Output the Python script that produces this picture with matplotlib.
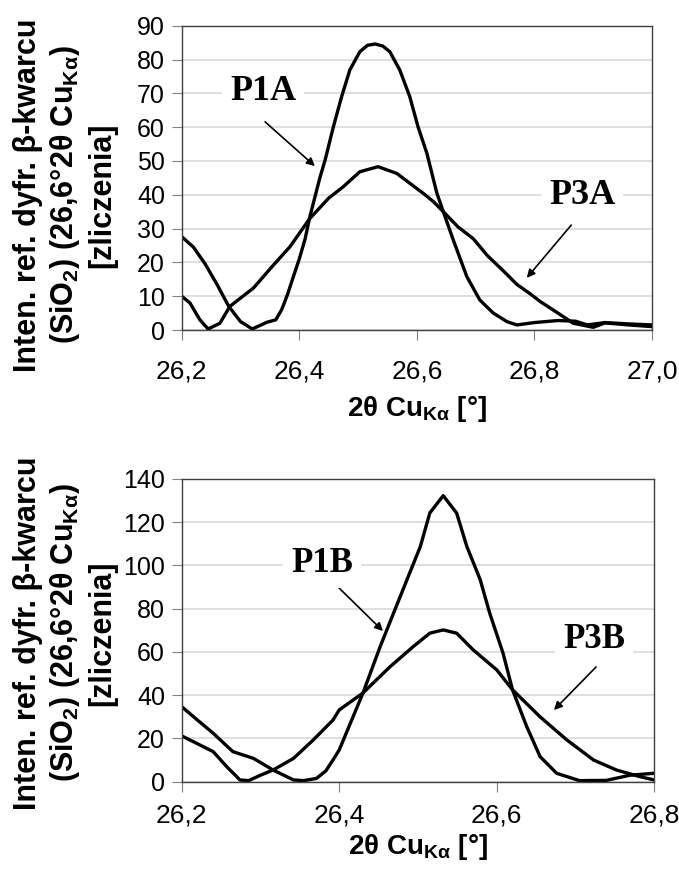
import matplotlib
matplotlib.use('Agg')
import matplotlib.pyplot as plt

plt.rcParams['font.family'] = ['Liberation Sans', 'DejaVu Sans']
plt.rcParams['mathtext.default'] = 'regular'

# Gorny wykres (A)
x_p1a = [26.20, 26.22, 26.24, 26.26, 26.28, 26.30, 26.32, 26.335, 26.345, 26.36, 26.37, 26.38,
         26.39, 26.40, 26.41, 26.418, 26.435, 26.444, 26.458, 26.472, 26.486, 26.503, 26.516,
         26.529, 26.542, 26.554, 26.571, 26.588, 26.602, 26.617, 26.634, 26.645, 26.662,
         26.685, 26.707, 26.73, 26.753, 26.77, 26.80, 26.84, 26.87, 26.89, 26.92, 26.96, 27.00]
y_p1a = [27.6, 24.5, 19.5, 13.5, 7.0, 2.5, 0.3, 1.5, 2.3, 3.0, 6.0, 10.5,
         15.8, 21.0, 27.0, 33.5, 45.0, 50.3, 60.1, 69.0, 76.9, 82.3, 84.2,
         84.6, 84.0, 82.3, 76.9, 69.0, 60.1, 52.3, 40.5, 35.0, 26.6,
         15.8, 8.9, 5.0, 2.5, 1.5, 2.2, 2.8, 2.6, 1.5, 2.2, 1.8, 1.5]
x_p3a = [26.20, 26.214, 26.231, 26.245, 26.265, 26.282, 26.322, 26.355, 26.384, 26.418, 26.45,
         26.475, 26.503, 26.534, 26.566, 26.588, 26.611, 26.628, 26.645, 26.67, 26.696, 26.72,
         26.75, 26.77, 26.792, 26.81, 26.84, 26.866, 26.90, 26.92, 26.96, 27.00]
y_p3a = [10.0, 8.0, 3.0, 0.3, 2.0, 7.0, 12.4, 19.0, 24.6, 33.0, 39.0,
         42.4, 46.8, 48.3, 46.3, 43.4, 40.4, 38.0, 35.0, 30.5, 27.0, 22.0,
         17.0, 13.5, 10.8, 8.4, 5.0, 2.0, 0.8, 2.1, 1.5, 1.0]

# Dolny wykres (B)
x_p1b = [26.20, 26.22, 26.24, 26.265, 26.291, 26.316, 26.342, 26.355, 26.371, 26.383, 26.392,
         26.40, 26.43, 26.452, 26.469, 26.486, 26.503, 26.515, 26.532, 26.549, 26.562, 26.579,
         26.591, 26.608, 26.62, 26.638, 26.655, 26.676, 26.705, 26.739, 26.769, 26.80]
y_p1b = [34.7, 28.5, 22.4, 13.9, 10.8, 5.4, 0.8, 0.5, 1.5, 5.0, 10.0,
         14.7, 40.9, 62.5, 78.0, 93.4, 108.8, 124.3, 132.3, 124.3, 108.8, 93.4,
         78.0, 59.4, 42.5, 25.5, 11.6, 3.9, 0.5, 0.6, 3.0, 3.9]
x_p3b = [26.20, 26.24, 26.257, 26.274, 26.285, 26.30, 26.316, 26.342, 26.367, 26.392, 26.40,
         26.43, 26.464, 26.494, 26.515, 26.532, 26.549, 26.57, 26.60, 26.62, 26.655, 26.689,
         26.723, 26.752, 26.782, 26.80]
y_p3b = [21.2, 13.9, 7.0, 0.8, 0.5, 3.0, 5.4, 10.8, 19.3, 28.5, 33.2,
         41.0, 53.0, 62.5, 68.7, 70.2, 68.7, 61.0, 51.7, 42.5, 30.0, 19.3,
         10.0, 5.4, 2.3, 0.8]

ylabel = 'Inten. ref. dyfr. β-kwarcu\n(SiO$_2$) (26,6°2θ Cu$_{Kα}$)\n[zliczenia]'
xlabel = '2θ Cu$_{Kα}$ [°]'

W, H = 679, 869
fig = plt.figure(figsize=(W / 100, H / 100), dpi=100)

def px(x0, y0, x1, y1):
    # prostokat w pikselach -> wspolrzedne figury
    return [x0 / W, 1 - y1 / H, (x1 - x0) / W, (y1 - y0) / H]

def styl(ax, xt, yt, xlim, ylim, xpad, lpad):
    ax.set_xlim(*xlim)
    ax.set_ylim(*ylim)
    ax.set_xticks(xt)
    ax.set_xticklabels([f'{v:.1f}'.replace('.', ',') for v in xt], fontsize=19)
    ax.set_yticks(yt)
    ax.set_yticklabels([str(v) for v in yt], fontsize=18)
    ax.grid(axis='y', color='#d9d9d9', linewidth=1.2)
    ax.set_axisbelow(True)
    for s in ax.spines.values():
        s.set_color('#404040')
        s.set_linewidth(1.0)
    ax.tick_params(axis='both', direction='out', length=7, color='#808080')
    ax.tick_params(axis='x', pad=xpad)
    ax.tick_params(axis='y', pad=5)
    ax.set_xlabel(xlabel, fontsize=20, fontweight='bold', labelpad=lpad)

def napis(ax, txt, xy_txt, xy_arrow_from, xy_arrow_to, size):
    ax.annotate('', xy=xy_arrow_to, xytext=xy_arrow_from, xycoords='figure pixels',
                textcoords='figure pixels',
                arrowprops=dict(arrowstyle='-|>', color='black', lw=1.2, mutation_scale=12))
    ax.text(xy_txt[0] / W, 1 - xy_txt[1] / H, txt, transform=fig.transFigure,
            ha='center', va='center', fontsize=size, fontweight='bold',
            family='Liberation Serif',
            bbox=dict(facecolor='white', edgecolor='none', pad=6))

# --- wykres A ---
ax1 = fig.add_axes(px(181.7, 25.7, 652, 330))
ax1.plot(x_p1a, y_p1a, color='black', lw=2.4, solid_joinstyle='round')
ax1.plot(x_p3a, y_p3a, color='black', lw=2.4, solid_joinstyle='round')
styl(ax1, [26.2, 26.4, 26.6, 26.8, 27.0], list(range(0, 91, 10)), (26.2, 27.0), (0, 90), 14, 8)
napis(ax1, 'P1A', (263, 92), (263, H - 120), (317, H - 168), 26)
napis(ax1, 'P3A', (582, 195), (573, H - 223), (525, H - 280), 26)
fig.text(65 / W, 1 - 195 / H, ylabel, rotation=90, ha='center', va='center',
         multialignment='center', fontsize=22, fontweight='bold', linespacing=1.2)

# --- wykres B ---
ax2 = fig.add_axes(px(181.7, 479, 654.3, 781.7))
ax2.plot(x_p1b, y_p1b, color='black', lw=2.4, solid_joinstyle='round')
ax2.plot(x_p3b, y_p3b, color='black', lw=2.4, solid_joinstyle='round')
styl(ax2, [26.2, 26.4, 26.6, 26.8], list(range(0, 141, 20)), (26.2, 26.8), (0, 140), 9, 3)
napis(ax2, 'P1B', (322, 563), (336, H - 585), (385, H - 633), 25)
napis(ax2, 'P3B', (594, 640), (598, H - 665), (552, H - 712), 25)
fig.text(65 / W, 1 - 633 / H, ylabel, rotation=90, ha='center', va='center',
         multialignment='center', fontsize=22, fontweight='bold', linespacing=1.2)

fig.savefig('out.png', dpi=100)
